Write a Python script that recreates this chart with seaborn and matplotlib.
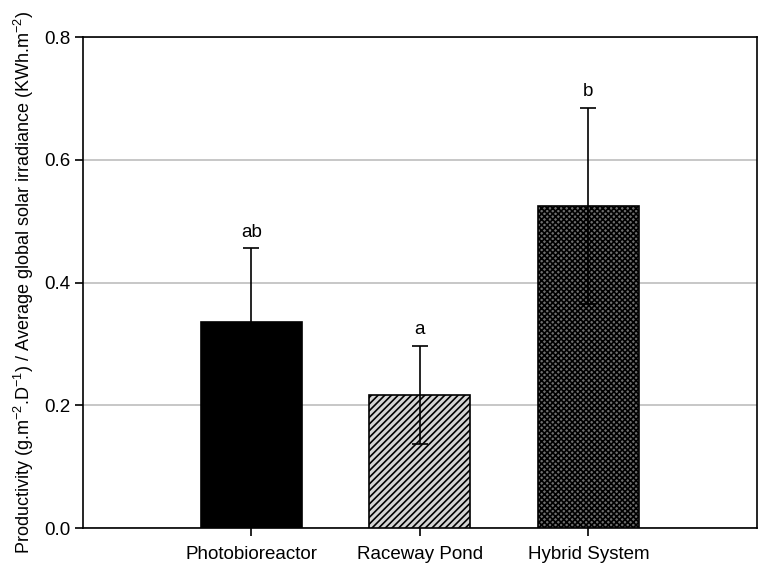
import matplotlib
matplotlib.use("Agg")
import matplotlib.pyplot as plt
import seaborn as sns
import pandas as pd

categories = ["Photobioreactor", "Raceway Pond", "Hybrid System"]
means = [0.336, 0.217, 0.525]
errors = [0.120, 0.080, 0.160]
letters = ["ab", "a", "b"]
y_ticks = [0.0, 0.2, 0.4, 0.6, 0.8]

sns.set_theme(style="white")
plt.rcParams['font.family'] = ['Liberation Sans', 'DejaVu Sans']
plt.rcParams['mathtext.fontset'] = 'custom'
plt.rcParams['mathtext.rm'] = 'Liberation Sans'
plt.rcParams['mathtext.it'] = 'Liberation Sans'
plt.rcParams['hatch.linewidth'] = 1.2
for k in ['text.color', 'axes.labelcolor', 'xtick.color', 'ytick.color']:
    plt.rcParams[k] = 'black'

df = pd.DataFrame({"cat": categories, "val": means})

fig = plt.figure(figsize=(7.58, 5.66), dpi=100)
ax = fig.add_axes([0.1095, 0.067, 0.889, 0.8676])

face = ["black", "#d4d4d4", "#6e6e6e"]
hatches = ["", "/////", "xxxxxx"]
sns.barplot(data=df, x="cat", y="val", hue="cat", palette=face, legend=False,
            width=0.6, errorbar=None, ax=ax, zorder=3, saturation=1)
for patch, h in zip(ax.patches, hatches):
    patch.set_hatch(h)
    patch.set_edgecolor("black")
    patch.set_linewidth(1.2)

xs = list(range(len(categories)))
ax.errorbar(xs, means, yerr=errors, fmt="none", ecolor="black", elinewidth=1.2,
            capsize=6, capthick=1.2, zorder=4)
for x, m, e, t in zip(xs, means, errors, letters):
    ax.text(x, m + e + 0.012, t, ha="center", va="bottom", fontsize=13.5, color="black")

ax.set_xlim(-1, 3)
ax.set_ylim(0, 0.8)
ax.set_yticks(y_ticks)
ax.set_yticklabels([f"{v:.1f}" for v in y_ticks])
ax.yaxis.grid(True, color="#bdbdbd", linewidth=1.2, zorder=0)
ax.set_axisbelow(True)
for s in ax.spines.values():
    s.set_color("black")
    s.set_linewidth(1.2)
ax.tick_params(axis="both", which="both", direction="out", length=6, width=1.2,
               color="black", labelcolor="black", labelsize=13.5, bottom=True, left=True, pad=3)
ax.tick_params(axis="x", pad=7)
ax.set_xlabel("")
ax.set_ylabel(r"Productivity (g.m$^{-2}$.D$^{-1}$) / Average global solar irradiance (KWh.m$^{-2}$)",
              fontsize=13, labelpad=6, color="black")

fig.savefig("out.png", dpi=100)
